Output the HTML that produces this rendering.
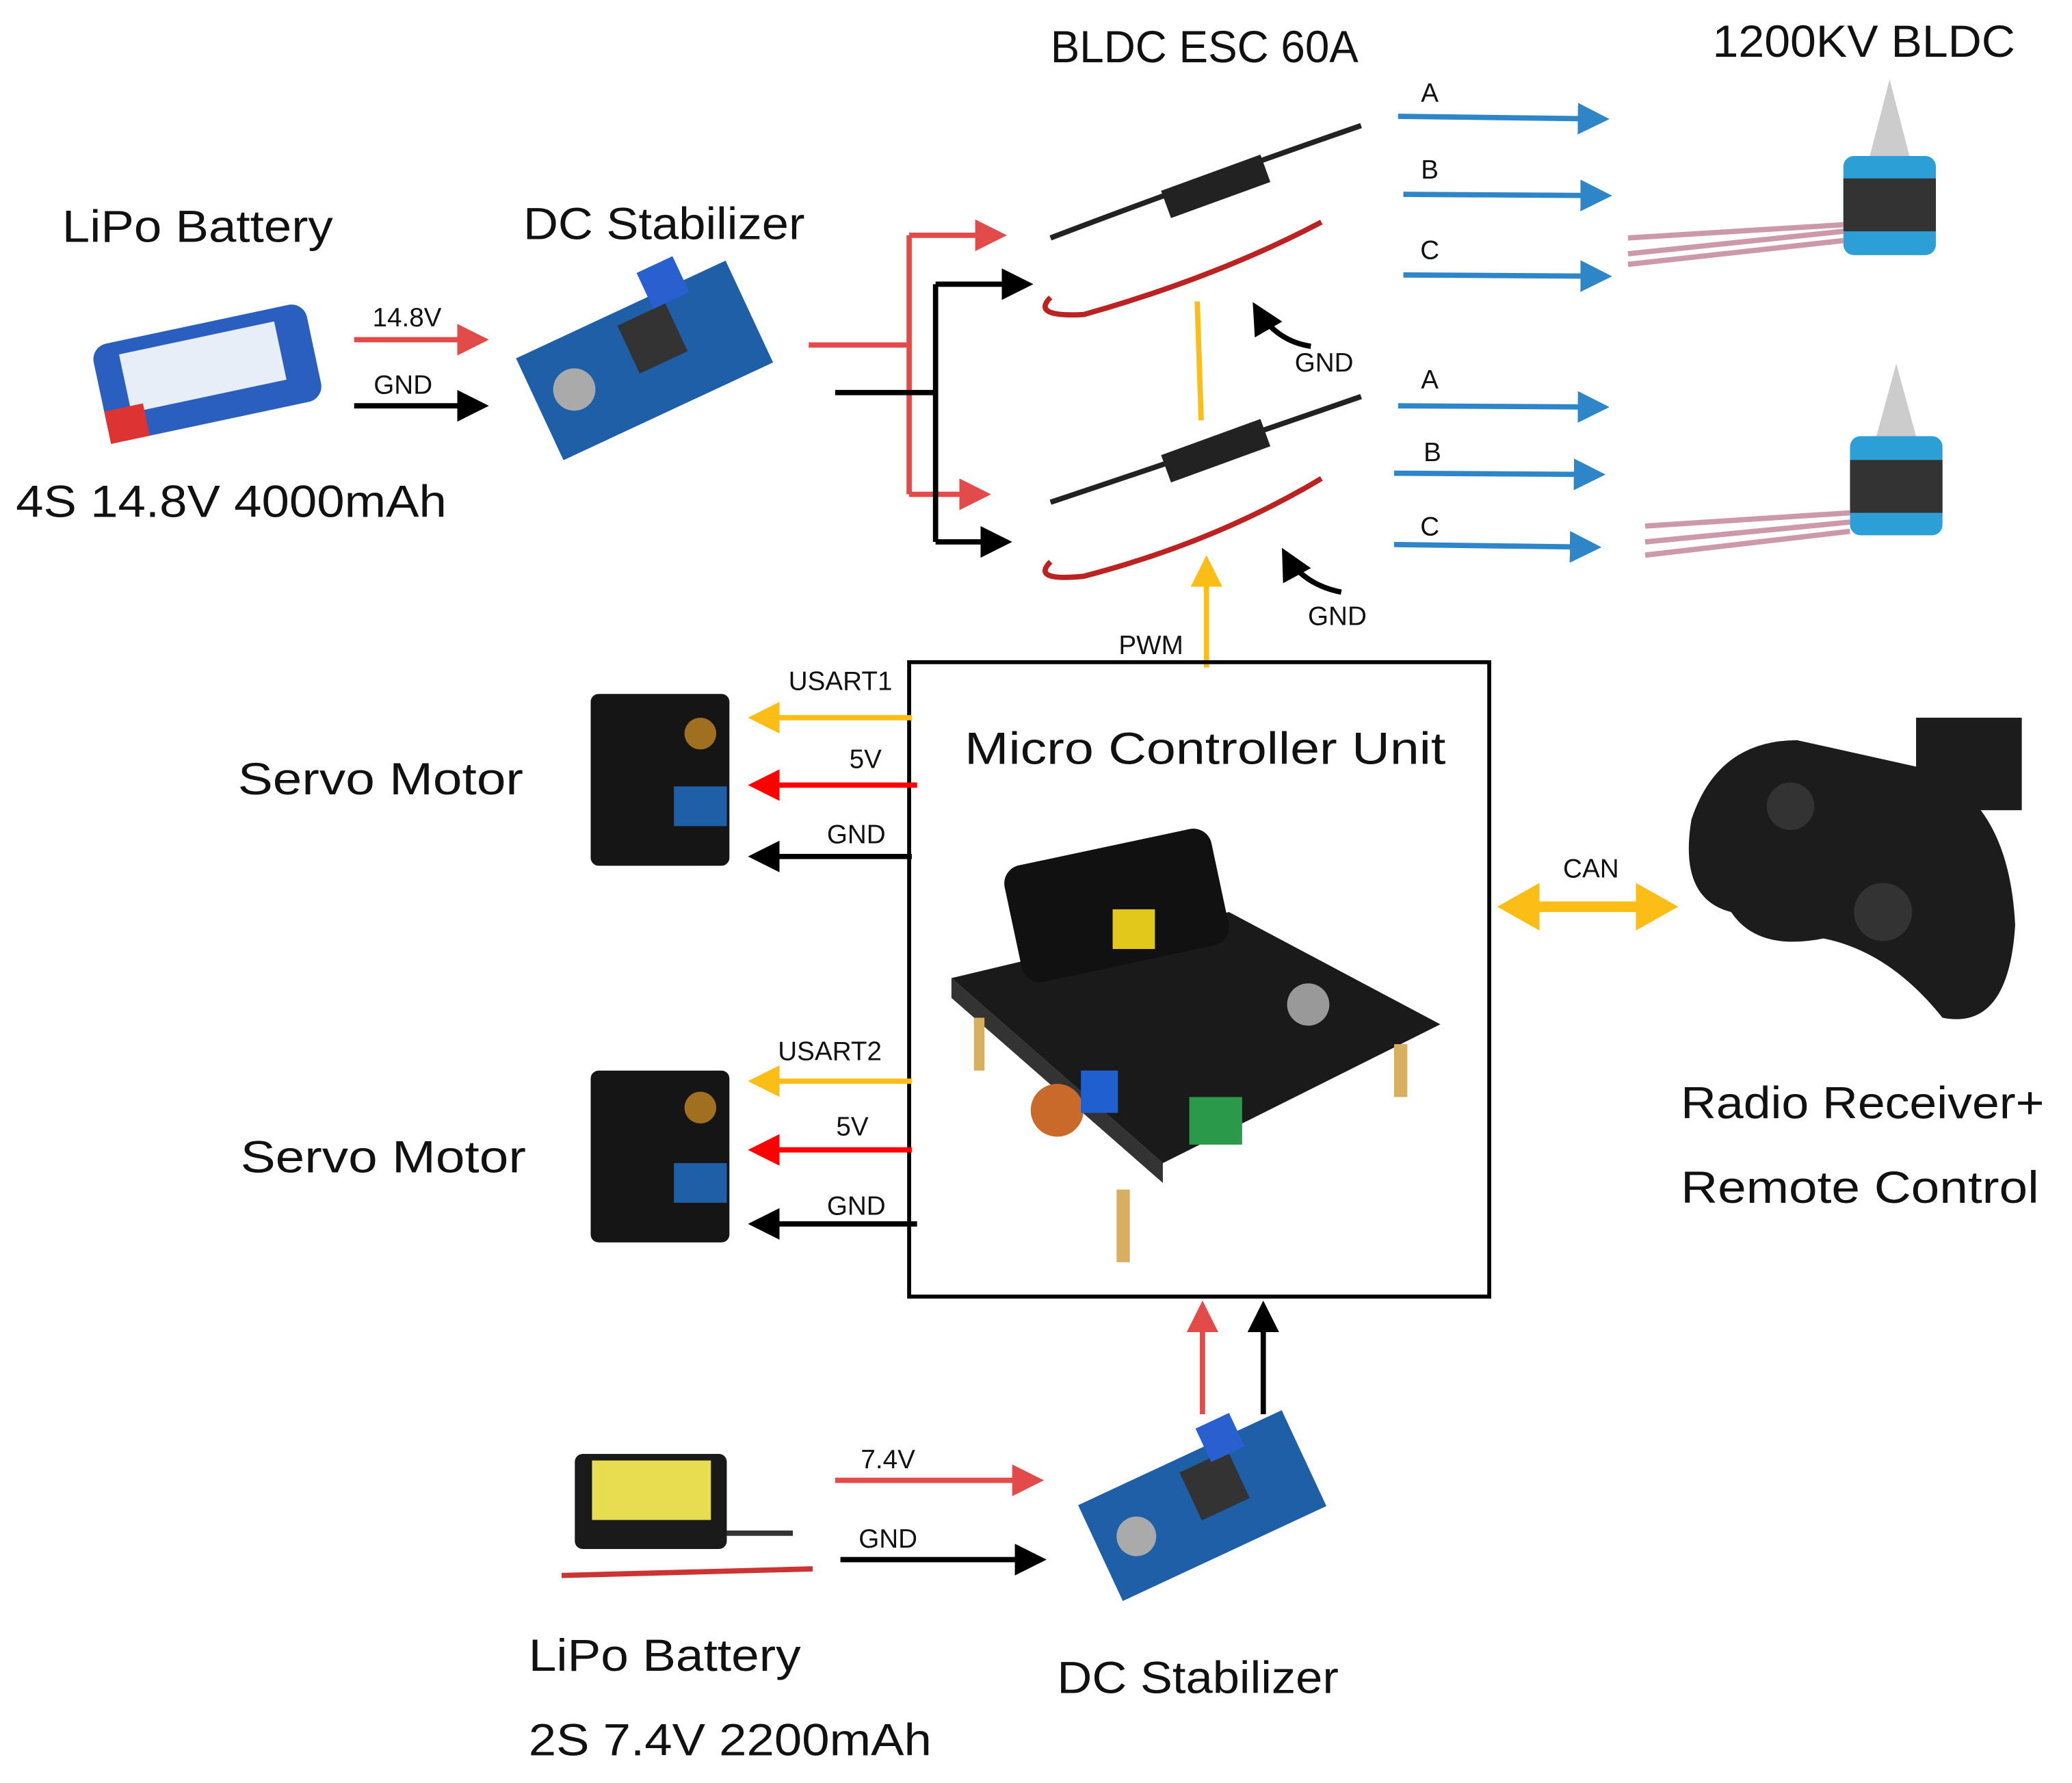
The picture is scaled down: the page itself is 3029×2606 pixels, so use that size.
<!DOCTYPE html>
<html><head><meta charset="utf-8"><style>html,body{margin:0;padding:0;background:#fff}svg{display:block}text{font-family:"Liberation Sans","DejaVu Sans",sans-serif;fill:#111}</style></head>
<body>
<svg width="3029" height="2606" viewBox="0 0 1568 1349" xmlns="http://www.w3.org/2000/svg">
<defs>
<marker id="r" markerWidth="6" markerHeight="6" refX="5" refY="3" orient="auto" markerUnits="strokeWidth"><path d="M0,0 L6,3 L0,6 Z" fill="#e34a4a"/></marker>
<marker id="rr" markerWidth="6" markerHeight="6" refX="5" refY="3" orient="auto" markerUnits="strokeWidth"><path d="M0,0 L6,3 L0,6 Z" fill="#f00"/></marker>
<marker id="k" markerWidth="6" markerHeight="6" refX="5" refY="3" orient="auto" markerUnits="strokeWidth"><path d="M0,0 L6,3 L0,6 Z" fill="#000"/></marker>
<marker id="b" markerWidth="6" markerHeight="6" refX="5" refY="3" orient="auto" markerUnits="strokeWidth"><path d="M0,0 L6,3 L0,6 Z" fill="#2e86c8"/></marker>
<marker id="y" markerWidth="6" markerHeight="6" refX="5" refY="3" orient="auto" markerUnits="strokeWidth"><path d="M0,0 L6,3 L0,6 Z" fill="#fbbd16"/></marker>
</defs>
<rect width="1568" height="1349" fill="#fff"/>

<g font-size="34" lengthAdjust="spacingAndGlyphs">
<text x="795" y="47" textLength="233" lengthAdjust="spacingAndGlyphs">BLDC ESC 60A</text>
<text x="1296" y="43" textLength="229" lengthAdjust="spacingAndGlyphs">1200KV BLDC</text>
<text x="47" y="183" textLength="205" lengthAdjust="spacingAndGlyphs">LiPo Battery</text>
<text x="396" y="181" textLength="213" lengthAdjust="spacingAndGlyphs">DC Stabilizer</text>
<text x="12" y="391" textLength="326" lengthAdjust="spacingAndGlyphs">4S 14.8V 4000mAh</text>
<text x="730" y="578" textLength="364" lengthAdjust="spacingAndGlyphs">Micro Controller Unit</text>
<text x="180" y="601" textLength="216" lengthAdjust="spacingAndGlyphs">Servo Motor</text>
<text x="182" y="887" textLength="216" lengthAdjust="spacingAndGlyphs">Servo Motor</text>
<text x="1272" y="846" textLength="275" lengthAdjust="spacingAndGlyphs">Radio Receiver+</text>
<text x="1272" y="910" textLength="271" lengthAdjust="spacingAndGlyphs">Remote Control</text>
<text x="400" y="1264" textLength="206" lengthAdjust="spacingAndGlyphs">LiPo Battery</text>
<text x="400" y="1328" textLength="305" lengthAdjust="spacingAndGlyphs">2S 7.4V 2200mAh</text>
<text x="800" y="1281" textLength="213" lengthAdjust="spacingAndGlyphs">DC Stabilizer</text>
</g>
<g font-size="20">
<text x="308" y="247" text-anchor="middle">14.8V</text>
<text x="305" y="298" text-anchor="middle">GND</text>
<text x="1002" y="281" text-anchor="middle">GND</text>
<text x="1012" y="473" text-anchor="middle">GND</text>
<text x="871" y="495" text-anchor="middle">PWM</text>
<text x="1082" y="77" text-anchor="middle">A</text>
<text x="1082" y="135" text-anchor="middle">B</text>
<text x="1082" y="196" text-anchor="middle">C</text>
<text x="1082" y="294" text-anchor="middle">A</text>
<text x="1084" y="349" text-anchor="middle">B</text>
<text x="1082" y="405" text-anchor="middle">C</text>
<text x="636" y="522" text-anchor="middle">USART1</text>
<text x="655" y="581" text-anchor="middle">5V</text>
<text x="648" y="638" text-anchor="middle">GND</text>
<text x="628" y="802" text-anchor="middle">USART2</text>
<text x="645" y="859" text-anchor="middle">5V</text>
<text x="648" y="919" text-anchor="middle">GND</text>
<text x="1204" y="664" text-anchor="middle">CAN</text>
<text x="672" y="1111" text-anchor="middle">7.4V</text>
<text x="672" y="1171" text-anchor="middle">GND</text>
</g>

<line x1="268" y1="257" x2="366" y2="257" stroke="#e34a4a" stroke-width="4" marker-end="url(#r)"/>
<line x1="268" y1="307" x2="366" y2="307" stroke="#000" stroke-width="4" marker-end="url(#k)"/>
<polyline points="612,261 688,261" stroke="#e34a4a" stroke-width="4" fill="none"/>
<line x1="688" y1="178" x2="688" y2="374" stroke="#e34a4a" stroke-width="4"/>
<line x1="688" y1="178" x2="758" y2="178" stroke="#e34a4a" stroke-width="4" marker-end="url(#r)"/>
<line x1="688" y1="374" x2="746" y2="374" stroke="#e34a4a" stroke-width="4" marker-end="url(#r)"/>
<line x1="632" y1="297" x2="708" y2="297" stroke="#000" stroke-width="4"/>
<line x1="708" y1="215" x2="708" y2="410" stroke="#000" stroke-width="4"/>
<line x1="708" y1="215" x2="778" y2="215" stroke="#000" stroke-width="4" marker-end="url(#k)"/>
<line x1="708" y1="410" x2="762" y2="410" stroke="#000" stroke-width="4" marker-end="url(#k)"/>
<line x1="906" y1="228" x2="909" y2="318" stroke="#fbbd16" stroke-width="4"/>
<line x1="913" y1="505" x2="913" y2="424" stroke="#fbbd16" stroke-width="4" marker-end="url(#y)"/>
<path d="M992,262 Q965,258 950,232" stroke="#000" stroke-width="4" fill="none" marker-end="url(#k)"/>
<path d="M1015,448 Q985,442 972,418" stroke="#000" stroke-width="4" fill="none" marker-end="url(#k)"/>
<g stroke="#2e86c8" stroke-width="4">
<line x1="1058" y1="88" x2="1214" y2="90" marker-end="url(#b)"/>
<line x1="1062" y1="147" x2="1216" y2="148" marker-end="url(#b)"/>
<line x1="1062" y1="208" x2="1216" y2="209" marker-end="url(#b)"/>
<line x1="1058" y1="307" x2="1214" y2="308" marker-end="url(#b)"/>
<line x1="1055" y1="358" x2="1211" y2="359" marker-end="url(#b)"/>
<line x1="1055" y1="412" x2="1208" y2="414" marker-end="url(#b)"/>
</g>
<rect x="688" y="501" width="439" height="480" fill="none" stroke="#000" stroke-width="3"/>
<line x1="690" y1="543" x2="570" y2="543" stroke="#fbbd16" stroke-width="4" marker-end="url(#y)"/>
<line x1="694" y1="594" x2="570" y2="594" stroke="#f00" stroke-width="4" marker-end="url(#rr)"/>
<line x1="690" y1="648" x2="570" y2="648" stroke="#000" stroke-width="4" marker-end="url(#k)"/>
<line x1="690" y1="818" x2="570" y2="818" stroke="#fbbd16" stroke-width="4" marker-end="url(#y)"/>
<line x1="690" y1="870" x2="570" y2="870" stroke="#f00" stroke-width="4" marker-end="url(#rr)"/>
<line x1="694" y1="926" x2="570" y2="926" stroke="#000" stroke-width="4" marker-end="url(#k)"/>
<line x1="1150" y1="686" x2="1252" y2="686" stroke="#fbbd16" stroke-width="8"/>
<polygon points="1133,686 1165,668 1165,704" fill="#fbbd16"/>
<polygon points="1270,686 1238,668 1238,704" fill="#fbbd16"/>
<line x1="910" y1="1070" x2="910" y2="988" stroke="#e34a4a" stroke-width="4" marker-end="url(#r)"/>
<line x1="956" y1="1070" x2="956" y2="988" stroke="#000" stroke-width="4" marker-end="url(#k)"/>
<line x1="632" y1="1120" x2="786" y2="1120" stroke="#e34a4a" stroke-width="4" marker-end="url(#r)"/>
<line x1="636" y1="1180" x2="788" y2="1180" stroke="#000" stroke-width="4" marker-end="url(#k)"/>

<g transform="rotate(-12 155 285)"><rect x="75" y="245" width="165" height="75" rx="12" fill="#2a5fbf"/><rect x="95" y="255" width="120" height="45" fill="#e8eef8"/><rect x="75" y="295" width="30" height="25" fill="#d33"/></g>
<g transform="rotate(-25 488 272)"><rect x="400" y="230" width="175" height="85" fill="#1f5fa8"/><rect x="480" y="240" width="40" height="40" fill="#333"/><circle cx="430" cy="270" r="16" fill="#aaa"/><rect x="510" y="210" width="30" height="30" fill="#2a5fd0"/></g>
<g fill="none" stroke-width="4">
<path d="M795,180 Q900,140 1030,95" stroke="#222"/>
<path d="M795,225 Q780,240 820,238 Q920,210 1000,168" stroke="#b22"/>
<path d="M795,380 Q900,345 1030,300" stroke="#222"/>
<path d="M795,425 Q780,440 820,436 Q920,410 1000,362" stroke="#b22"/>
</g>
<rect x="880" y="130" width="80" height="22" fill="#222" transform="rotate(-20 920 141)"/>
<rect x="880" y="330" width="80" height="22" fill="#222" transform="rotate(-20 920 341)"/>
<g>
<rect x="1395" y="118" width="70" height="75" rx="8" fill="#2b9fd6"/><rect x="1395" y="135" width="70" height="40" fill="#333"/>
<path d="M1415,118 L1430,60 L1445,118 Z" fill="#ccc"/>
<path d="M1232,192 L1395,175 M1232,180 L1395,170 M1232,200 L1395,182" stroke="#c9a" stroke-width="4"/>
<rect x="1400" y="330" width="70" height="75" rx="8" fill="#2b9fd6"/><rect x="1400" y="348" width="70" height="40" fill="#333"/>
<path d="M1420,330 L1435,275 L1450,330 Z" fill="#ccc"/>
<path d="M1245,410 L1400,395 M1245,398 L1400,388 M1245,420 L1400,402" stroke="#c9a" stroke-width="4"/>
</g>
<rect x="447" y="525" width="105" height="130" rx="6" fill="#151515"/><circle cx="530" cy="555" r="12" fill="#a07020"/><rect x="510" y="595" width="40" height="30" fill="#1f5fa8"/>
<rect x="447" y="810" width="105" height="130" rx="6" fill="#151515"/><circle cx="530" cy="838" r="12" fill="#a07020"/><rect x="510" y="880" width="40" height="30" fill="#1f5fa8"/>
<polygon points="720,740 930,690 1090,775 880,880" fill="#1a1a1a"/>
<polygon points="720,740 880,880 880,895 720,755" fill="#333"/>
<rect x="765" y="640" width="160" height="90" rx="14" fill="#111" transform="rotate(-12 845 685)"/>
<rect x="842" y="688" width="32" height="30" fill="#e2c81a"/>
<circle cx="800" cy="840" r="20" fill="#c96a2a"/><rect x="818" y="810" width="28" height="32" fill="#1f5fd0"/><rect x="900" y="830" width="40" height="36" fill="#2a9a4a"/>
<circle cx="990" cy="760" r="16" fill="#999"/>
<rect x="737" y="770" width="8" height="40" fill="#d6b060"/><rect x="845" y="900" width="10" height="55" fill="#d6b060"/><rect x="1055" y="790" width="10" height="40" fill="#d6b060"/>
<path d="M1280,620 Q1300,560 1360,560 L1450,580 Q1520,600 1525,700 Q1520,780 1470,770 Q1430,720 1380,710 Q1330,720 1310,690 Q1270,680 1280,620 Z" fill="#1c1c1c"/>
<circle cx="1355" cy="610" r="18" fill="#333"/><circle cx="1425" cy="690" r="22" fill="#333"/>
<rect x="1450" y="543" width="80" height="70" fill="#1c1c1c"/>
<rect x="435" y="1100" width="115" height="72" rx="6" fill="#1a1a1a"/><rect x="448" y="1105" width="90" height="45" fill="#e8dc50"/>
<path d="M425,1192 L615,1187" stroke="#c33" stroke-width="4"/><path d="M550,1160 L600,1160" stroke="#333" stroke-width="4"/>
<g transform="rotate(-25 908 1140)"><rect x="825" y="1100" width="170" height="80" fill="#1f5fa8"/><rect x="905" y="1110" width="40" height="40" fill="#333"/><circle cx="855" cy="1140" r="15" fill="#aaa"/><rect x="930" y="1085" width="28" height="28" fill="#2a5fd0"/></g>
</svg>
</body></html>
